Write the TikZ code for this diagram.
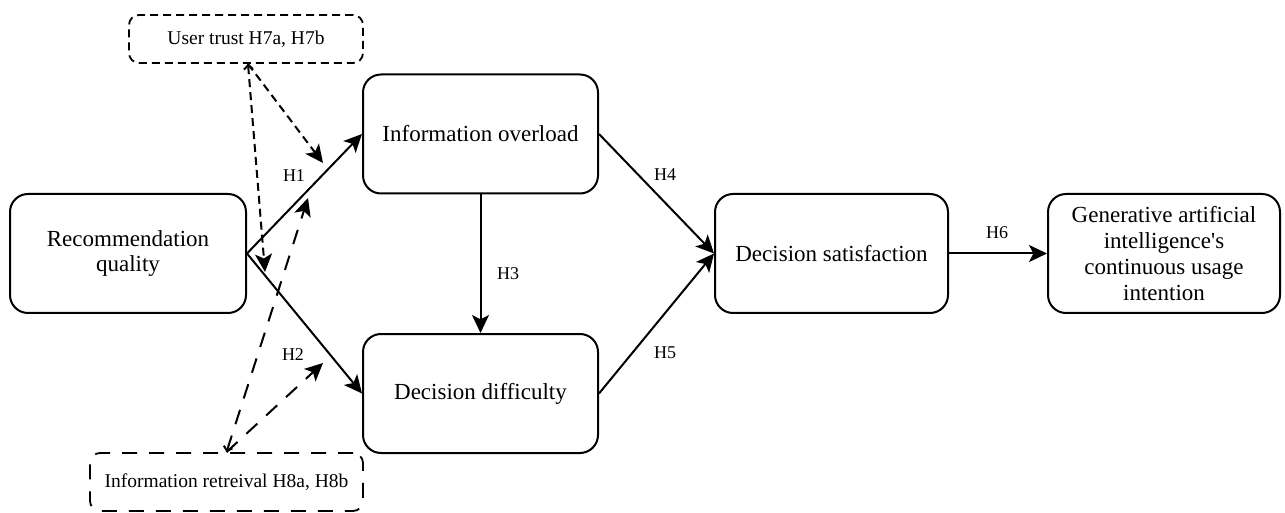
\documentclass[tikz,border=0pt]{standalone}
\usepackage{fontspec}
\setmainfont{Liberation Serif}
\usetikzlibrary{arrows.meta}
\begin{document}
\begin{tikzpicture}[x=0.5pt,y=-0.5pt,>={Stealth[length=9pt,width=8.5pt,inset=2.2pt]},
	box/.style={draw,line width=1pt,rounded corners=9pt,align=center,inner sep=0pt,minimum height=59.5pt,font=\fontsize{11.5}{12.9}\selectfont},
	modbox/.style={draw,line width=0.9pt,rounded corners=5pt,inner sep=0pt,font=\fontsize{9.75}{11}\selectfont},
	hlabel/.style={font=\fontsize{9}{10}\selectfont},
	link/.style={line width=1pt,->},
	shortdash/.style={dash pattern=on 4pt off 2.5pt},
	longdash/.style={dash pattern=on 7.5pt off 6pt}]
	\useasboundingbox (0,0) rectangle (1285,513);
	\node[box,minimum width=118pt] (rq) at (128,253.5) {Recommendation\\quality};
	\node[box,minimum width=117.5pt] (io) at (480.5,134) {Information overload};
	\node[box,minimum width=117.5pt] (dd) at (480.5,393.5) {Decision difficulty};
	\node[box,minimum width=116.5pt] (ds) at (831.5,253.5) {Decision satisfaction};
	\node[box,minimum width=116pt] (gai) at (1164,253.5) {Generative artificial\\intelligence\textquotesingle s\\continuous usage\\intention};
	\node[modbox,shortdash,minimum width=117pt,minimum height=24pt] (ut) at (246,39) {\raisebox{-2pt}{User trust H7a, H7b}};
	\node[modbox,longdash,minimum width=136.5pt,minimum height=29pt] (ir) at (226.5,482) {\raisebox{-1.5pt}{Information retreival H8a, H8b}};
	\coordinate (uta) at (323,163);
	\coordinate (utb) at (265,272);
	\coordinate (ira) at (308,198);
	\coordinate (irb) at (323,363);
	\draw[link] (rq.east) -- (io.west);
	\draw[link] (rq.east) -- (dd.west);
	\draw[link] (io.south) -- (dd.north);
	\draw[link] (io.east) -- (ds.west);
	\draw[link] (dd.east) -- (ds.west);
	\draw[link] (ds.east) -- (gai.west);
	\draw[link,shortdash] ([xshift=1pt]ut.south) -- (uta);
	\draw[link,shortdash,{Straight Barb[length=2pt,width=4.5pt]}->] ([xshift=1pt]ut.south) -- (utb);
	\draw[link,longdash] (ir.north) -- (irb);
	\draw[link,longdash,{Straight Barb[length=2pt,width=4.5pt]}->] (ir.north) -- (ira);
	\node[hlabel] (h1) at (294,176) {H1};
	\node[hlabel] (h2) at (293,355) {H2};
	\node[hlabel] (h3) at (508,274) {H3};
	\node[hlabel] (h4) at (665,175) {H4};
	\node[hlabel] (h5) at (665,353) {H5};
	\node[hlabel] (h6) at (997,233) {H6};
\end{tikzpicture}
\end{document}
